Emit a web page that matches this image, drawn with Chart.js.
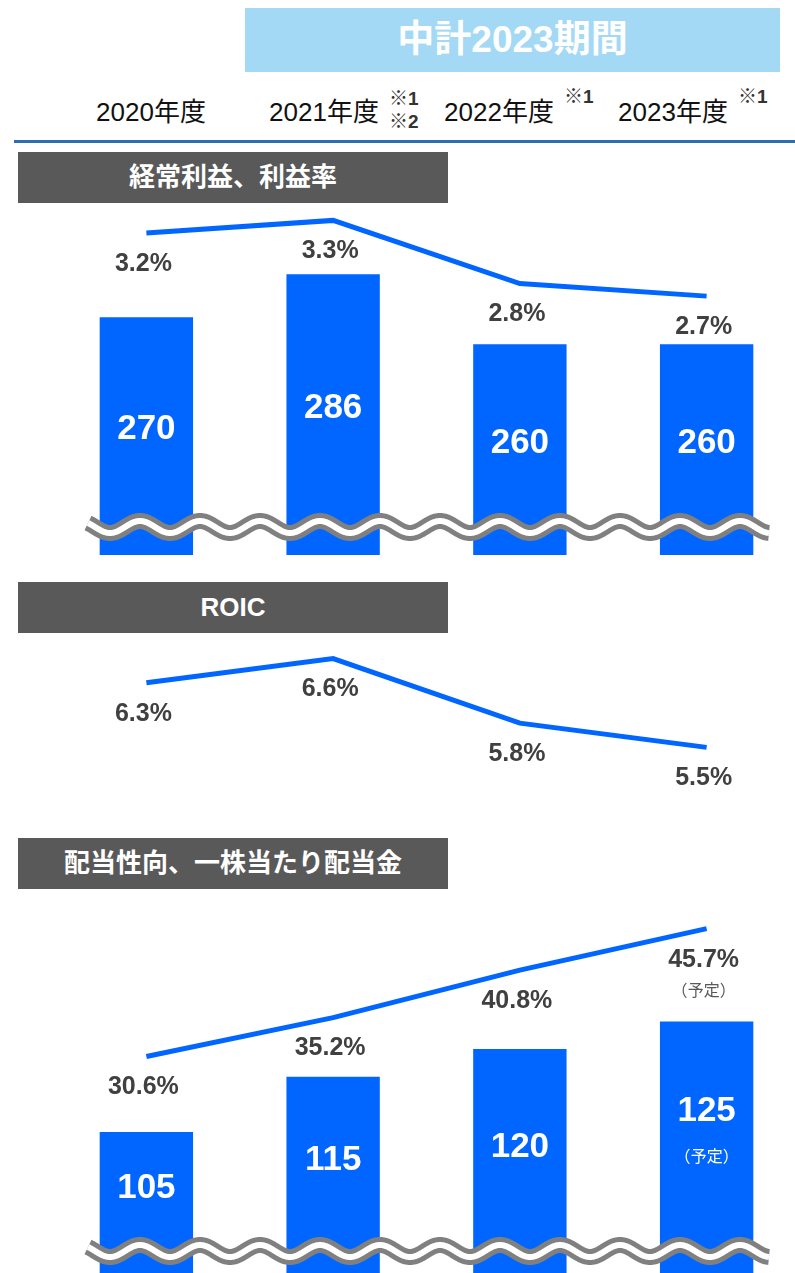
<!DOCTYPE html>
<html>
<head>
    <meta charset="utf-8">
    <title>経常利益・ROIC・配当性向</title>
    <script src="https://cdn.jsdelivr.net/npm/chart.js"></script>
    <style>
        body { margin: 0; width: 795px; height: 1273px; overflow: hidden; position: relative; background: #fff;
               font-family: "Liberation Sans", "Noto Sans CJK JP", sans-serif; }
        .banner { position: absolute; left: 245px; top: 8px; width: 535px; height: 64px; background: #a3d9f5;
                  color: #fff; font-weight: bold; font-size: 37px; text-align: center; line-height: 64px; }
        .year { position: absolute; top: 91px; width: 160px; text-align: center; font-size: 26px; color: #111; }
        .note { position: absolute; font-size: 19px; font-weight: bold; color: #333; line-height: 22px; }
        .rule { position: absolute; left: 14px; top: 140px; width: 781px; height: 3px; background: #2e6db4; }
        .head { position: absolute; left: 18px; width: 430px; height: 51px; background: #595959; color: #fff;
                font-weight: bold; font-size: 26px; text-align: center; line-height: 51px; }
        canvas { position: absolute; left: 0; }
    </style>
</head>
<body>
    <div class="banner">中計2023期間</div>

    <div class="year" style="left:71px">2020年度</div>
    <div class="year" style="left:244px">2021年度</div>
    <div class="year" style="left:419px">2022年度</div>
    <div class="year" style="left:593px">2023年度</div>
    <div class="note" style="left:389px; top:88px">※1</div>
    <div class="note" style="left:389px; top:111px">※2</div>
    <div class="note" style="left:564px; top:86px">※1</div>
    <div class="note" style="left:738px; top:86px">※1</div>
    <div class="rule"></div>

    <div class="head" style="top:152px">経常利益、利益率</div>
    <canvas id="c1" width="800" height="350" style="top:205px"></canvas>

    <div class="head" style="top:582px">ROIC</div>
    <canvas id="c2" width="800" height="200" style="top:633px"></canvas>

    <div class="head" style="top:838px">配当性向、一株当たり配当金</div>
    <canvas id="c3" width="800" height="384" style="top:889px"></canvas>

    <script>
        const years = ['2020年度', '2021年度', '2022年度', '2023年度'];

        // 経常利益（億円）と利益率（%）
        const ordinaryProfit = [270, 286, 260, 260];
        const profitRate = [3.2, 3.3, 2.8, 2.7];

        // ROIC（%）
        const roic = [6.3, 6.6, 5.8, 5.5];

        // 一株当たり配当金（円）と配当性向（%）
        const dividend = [105, 115, 120, 125];
        const payoutRatio = [30.6, 35.2, 40.8, 45.7];
        const planNote = ['', '', '', '（予定）'];

        const BLUE = '#0066ff';

        function drawWave(ctx, x0, x1, cy) {
            ctx.beginPath();
            for (let x = x0; x <= x1; x++) {
                const y = cy - 6 * Math.cos(2 * Math.PI * (x - 140) / 60);
                if (x === x0) ctx.moveTo(x, y); else ctx.lineTo(x, y);
            }
            ctx.lineCap = 'butt';
            ctx.lineJoin = 'round';
            ctx.strokeStyle = '#808080';
            ctx.lineWidth = 16;
            ctx.stroke();
            ctx.strokeStyle = '#ffffff';
            ctx.lineWidth = 6;
            ctx.stroke();
        }

        // ラベルと波線を描くプラグイン
        const labelPlugin = {
            id: 'labels',
            afterDatasetsDraw(chart, args, opts) {
                const ctx = chart.ctx;
                ctx.save();
                if (opts.waveY) drawWave(ctx, 88, 769, opts.waveY);
                ctx.textAlign = 'center';
                ctx.textBaseline = 'middle';

                chart.data.datasets.forEach((ds, di) => {
                    const meta = chart.getDatasetMeta(di);
                    meta.data.forEach((el, i) => {
                        if (ds.type === 'bar') {
                            const cy = (el.y + opts.barBase) / 2;
                            const note = opts.notes ? opts.notes[i] : '';
                            ctx.fillStyle = '#fff';
                            ctx.font = 'bold 35px "Liberation Sans"';
                            ctx.fillText(ds.data[i], el.x, note ? cy - 22 : cy);
                            if (note) {
                                ctx.font = '16px "Noto Sans CJK JP"';
                                ctx.fillText(note, el.x, cy + 23);
                            }
                        } else {
                            const ly = el.y + 31;
                            ctx.fillStyle = '#404040';
                            ctx.font = 'bold 25px "Liberation Sans"';
                            ctx.fillText(ds.data[i].toFixed(1) + '%', el.x - 3, ly);
                            const note = opts.lineNotes ? opts.lineNotes[i] : '';
                            if (note) {
                                ctx.fillStyle = '#595959';
                                ctx.font = '16px "Noto Sans CJK JP"';
                                ctx.fillText(note, el.x - 3, ly + 30);
                            }
                        }
                    });
                });
                ctx.restore();
            }
        };

        function makeChart(id, bars, line, barRange, lineRange, labelOpts) {
            const datasets = [{
                type: 'line',
                data: line,
                yAxisID: 'yLine',
                borderColor: BLUE,
                borderWidth: 5,
                pointRadius: 0,
                tension: 0,
                order: 0
            }];
            if (bars) {
                datasets.push({
                    type: 'bar',
                    data: bars,
                    yAxisID: 'yBar',
                    backgroundColor: BLUE,
                    barPercentage: 0.5,
                    categoryPercentage: 1,
                    order: 1
                });
            }
            return new Chart(document.getElementById(id).getContext('2d'), {
                data: { labels: years, datasets: datasets },
                options: {
                    responsive: false,
                    animation: false,
                    layout: { padding: { left: 53, right: 0, top: 0, bottom: 0 } },
                    scales: {
                        x: { type: 'category', display: false, offset: true },
                        yBar: { display: false, min: barRange[0], max: barRange[1] },
                        yLine: { display: false, min: lineRange[0], max: lineRange[1] }
                    },
                    plugins: {
                        legend: { display: false },
                        tooltip: { enabled: false },
                        labels: labelOpts
                    }
                },
                plugins: [labelPlugin]
            });
        }

        makeChart('c1', ordinaryProfit, profitRate, [181.6, 311.75], [0.649, 3.422],
            { waveY: 322, barBase: 337 });
        makeChart('c2', null, roic, [0, 1], [4.439, 6.917], {});
        makeChart('c3', dividend, payoutRatio, [79.46, 148.97], [5.05, 50.38],
            { waveY: 362, barBase: 356, notes: planNote, lineNotes: planNote });
    </script>
</body>
</html>
